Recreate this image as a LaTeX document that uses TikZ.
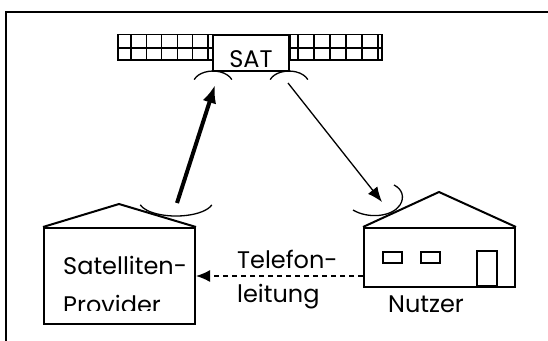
\documentclass[tikz,border=0pt]{standalone}
\usepackage{fontspec}
\setmainfont{Poppins}
\usetikzlibrary{positioning, arrows.meta}

\begin{document}
\begin{tikzpicture}[x=1pt, y=-1pt,
                        house/.style={rectangle, draw=black, line width=2pt, inner sep=0pt, minimum width=151pt},
                        roof/.style={draw=black, line width=2pt},
                        panel/.style={draw=black, line width=1.5pt},
                        grid/.style={draw=black, line width=1.2pt},
                        dish/.style={draw=black, line width=1.3pt},
                        window/.style={rectangle, draw=black, line width=1.5pt, inner sep=0pt, minimum width=19pt, minimum height=11pt},
                        txt/.style={font=\fontsize{24}{34}\selectfont, inner sep=0pt},
                        uplink/.style={line width=4pt, -{Latex[length=18pt, width=14pt]}},
                        downlink/.style={line width=1.3pt, -{Latex[length=15pt, width=12pt]}},
                        phone/.style={line width=1.5pt, dash pattern=on 5pt off 4pt, -{Latex[length=14pt, width=12pt]}},
                        ]
        \useasboundingbox (0,0) rectangle (548,340);
        \draw[line width=2pt] (560,12) -- (6,12) -- (6,350);

        %Satellite
        \node[txt, rectangle, draw=black, line width=1.5pt, minimum width=76pt, text height=32pt, text depth=4pt, inner ysep=0pt] (sat) at (251,53) {SAT};
        \draw[panel] (118,60) rectangle (sat.north west) (118,48) -- (sat.west |- 0,48);
        \draw[panel] (sat.north east) rectangle (382,60) (sat.east |- 0,48) -- (382,48);
        \foreach \k in {0,...,5} {
            \draw[grid] (131+15.4*\k,35) -- ++(0,25);
            \draw[grid] (298+16*\k,35) -- ++(0,25);
        }
        \draw[dish] (194.2,79.6) arc[start angle=200, end angle=340, x radius=20, y radius=13];
        \draw[dish] (270.2,79.6) arc[start angle=200, end angle=340, x radius=20, y radius=13];
        \coordinate (satdishL) at (215,85);
        \coordinate (satdishR) at (288,83);

        %Houses
        \node[house, minimum height=96pt] (provider) at (119.5,276) {};
        \node[house, minimum height=59pt] (user)     at (439.5,257.5) {};
        \coordinate (provpeak) at (119,204);
        \coordinate (userpeak) at (439,192);
        \draw[roof] (provider.north west) -- (provpeak) -- (provider.north east);
        \draw[roof] (user.north west) -- (userpeak) -- (user.north east);
        \node[window] (win1) at (392.5,257.5) {};
        \node[window] (win2) at (430.5,257.5) {};
        \node[window, line width=2pt, minimum width=20pt, minimum height=35pt, anchor=south] (door) at (487,287) {};

        \draw[dish] (140.3,204.9) arc[start angle=165, end angle=15, x radius=37, y radius=15];
        \draw[dish] (353,210) .. controls (368,219) and (392,217) .. (400,205) .. controls (405,197) and (402,189) .. (394,185);
        \coordinate (provdish) at (177,203);
        \coordinate (userdish) at (382,202);

        %Labels
        \begin{scope}
            \clip (provider.north west) rectangle (196,310);
            \node[txt, font=\fontsize{24}{39}\selectfont, align=left, anchor=base west] (provlbl) at (63,313) {Satelliten-\\Provider};
        \end{scope}
        \node[txt, align=left, anchor=base west] (phonelbl) at (237,302) {Telefon-\\leitung};
        \node[txt, anchor=base] (userlbl) at (426,312) {Nutzer};

        %Lines
        \draw[uplink] (provdish) -- (satdishL);
        \draw[downlink] (satdishR) -- (userdish);
        \draw[phone] (user.west |- provider.east) -- (provider.east);
    \end{tikzpicture}
\end{document}
